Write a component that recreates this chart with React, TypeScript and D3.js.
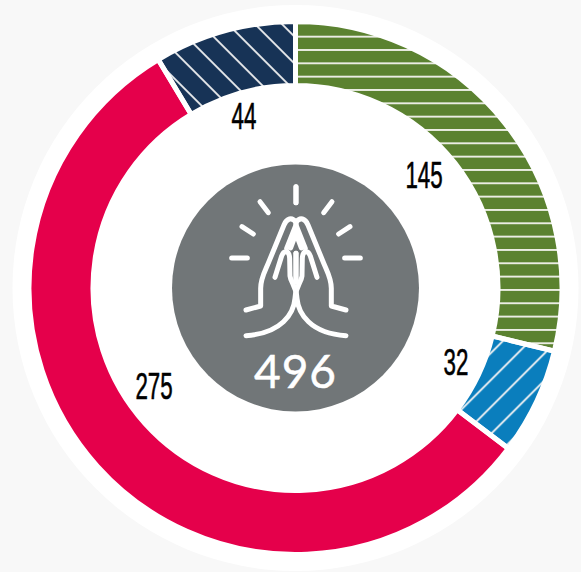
import React from "react";
import * as d3 from "d3";

const names = ["green", "blue", "red", "navy"];
const labels = [145, 32, 275, 44];
// arc spans, in degrees
const spans = [103.7, 23.3, 202, 31];
const colors = ["#5b8230", "#0a7ebd", "#e5004b", "#173356"];
const labelX = [424, 456, 154, 244];
const labelY = [175, 362, 386, 116];
const total = "496";

const rays: [number, number, number, number][] = [
  [378, 50, 378, 98],
  [270, 95, 295, 128],
  [216, 170, 250, 192],
  [185, 264, 232, 264],
];
const handPaths = [
  "M228,420 L272,408 L272,355 C272,322 285,305 298,272 L342,165 C350,145 366,140 378,157 L378,165 L350,235",
  "M380,186 L362,234",
  "M315,322 L335,258 C342,238 358,242 359,265 L360,318 C362,338 378,345 381,385 C385,430 420,490 528,497",
  "M378,250 L378,335",
];

export default function App() {
  const cx = 295.5, cy = 288;
  const pie = d3.pie<number>().sort(null).value((d) => d)(spans);
  const arc = d3.arc<d3.PieArcDatum<number>>().innerRadius(202.5).outerRadius(266.5);
  const hand = (
    <g fill="none" stroke="#fff" strokeWidth={15} strokeLinecap="round" strokeLinejoin="round">
      {rays.map((r, i) => <line key={i} x1={r[0]} y1={r[1]} x2={r[2]} y2={r[3]} />)}
      {handPaths.map((d, i) => <path key={i} d={d} />)}
    </g>
  );
  return (
    <svg width={581} height={572} style={{ position: "absolute", left: 0, top: 0, background: "#f8f8f8" }}>
      <defs>
        <pattern id="h-green" patternUnits="userSpaceOnUse" width={20} height={13.33} patternTransform="translate(0,10)">
          <rect x={0} y={-0.9} width={20} height={1.8} fill="#f4f4ee" />
          <rect x={0} y={12.43} width={20} height={1.8} fill="#f4f4ee" />
        </pattern>
        <pattern id="h-navy" patternUnits="userSpaceOnUse" width={20} height={19.09} patternTransform="rotate(45)">
          <rect x={0} y={7.6} width={20} height={1.8} fill="#f4f4f4" />
        </pattern>
        <pattern id="h-blue" patternUnits="userSpaceOnUse" width={20} height={19.09} patternTransform="rotate(-45)">
          <rect x={0} y={4.1} width={20} height={1.8} fill="#f4f4f4" />
        </pattern>
      </defs>
      <circle cx={cx} cy={cy} r={283} fill="#fff" />
      <g transform={`translate(${cx},${cy})`}>
        {pie.map((p, i) => (
          <path key={names[i]} d={arc(p) as string} fill={colors[i]} />
        ))}
      </g>
      {pie.map((p, i) =>
        names[i] === "red" ? null : (
          <g key={"h" + i}>
            <clipPath id={`c-${names[i]}`}>
              <path d={arc(p) as string} transform={`translate(${cx},${cy})`} />
            </clipPath>
            <rect x={0} y={0} width={581} height={572} fill={`url(#h-${names[i]})`} clipPath={`url(#c-${names[i]})`} />
          </g>
        )
      )}
      <g transform={`translate(${cx},${cy})`}>
        {pie.map((p, i) => (
          <path key={i} d={arc(p) as string} fill="none" stroke="#fff" strokeWidth={5} />
        ))}
      </g>
      <circle cx={cx} cy={cy} r={123.5} fill="#717678" />
      <g transform="translate(170,170) scale(0.3333)">
        {hand}
        <g transform="translate(756,0) scale(-1,1)">{hand}</g>
      </g>
      <text x={295.5} y={388} textAnchor="middle" fontFamily="Lato, 'Open Sans', sans-serif" fontSize={46} fill="#fff" stroke="#fff" strokeWidth={0.5} letterSpacing={1}>{total}</text>
      {labels.map((v, i) => (
        <text key={i} transform={`translate(${labelX[i]},${labelY[i] + 13}) scale(0.62,1)`} textAnchor="middle"
          fontFamily="'Liberation Sans', sans-serif" fontSize={36} fill="#000" stroke="#000" strokeWidth={0.6}>{v}</text>
      ))}
    </svg>
  );
}
